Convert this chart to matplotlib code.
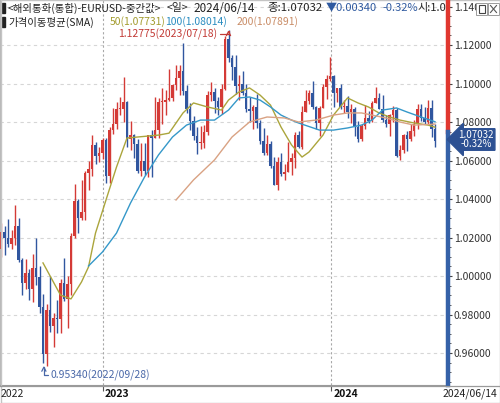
import matplotlib
matplotlib.use("Agg")
import matplotlib.pyplot as plt
from matplotlib.patches import Rectangle
from matplotlib.lines import Line2D
import numpy as np
import pandas as pd

plt.rcParams['font.family'] = ['Noto Sans CJK KR', 'DejaVu Sans']

# EURUSD mid rate, one candle per 4 trading days (last one = 2024/06/14)
first_open = 1.0140
closes = [1.0230, 1.0200, 1.0165, 1.0195, 1.0258, 1.0085, 0.9966, 1.0015, 0.9930, 1.0040,
          0.9995, 0.9838, 0.9595, 0.9825, 0.9740, 0.9780, 0.9775, 0.9965, 0.9883, 0.9960,
          1.0210, 1.0390, 1.0303, 1.0335, 1.0535, 1.0555, 1.0680, 1.0625, 1.0640, 1.0705,
          1.0520, 1.0760, 1.0790, 1.0870, 1.0870, 1.0905, 1.0710, 1.0735, 1.0685, 1.0545,
          1.0595, 1.0545, 1.0730, 1.0715, 1.0760, 1.0905, 1.0905, 1.0915, 1.0925, 1.0990,
          1.1030, 1.1065, 1.0960, 1.0870, 1.0805, 1.0725, 1.0690, 1.0690, 1.0750, 1.0940,
          1.0955, 1.0910, 1.0880, 1.0970, 1.1230, 1.1130, 1.1085, 1.0985, 1.1000, 1.0950,
          1.0870, 1.0855, 1.0880, 1.0795, 1.0700, 1.0640, 1.0685, 1.0570, 1.0475, 1.0590,
          1.0530, 1.0540, 1.0590, 1.0615, 1.0730, 1.0670, 1.0850, 1.0910, 1.0950, 1.0880,
          1.0795, 1.0875, 1.0980, 1.1025, 1.1040, 1.0950, 1.0975, 1.0880, 1.0885, 1.0850,
          1.0870, 1.0775, 1.0710, 1.0780, 1.0820, 1.0805, 1.0900, 1.0925, 1.0870, 1.0810,
          1.0790, 1.0835, 1.0860, 1.0625, 1.0655, 1.0730, 1.0710, 1.0755, 1.0790, 1.0870,
          1.0820, 1.0800, 1.0875, 1.0765, 1.07032]
highs = [1.0275, 1.0258, 1.0295, 1.0240, 1.0368, 1.0300, 1.0095, 1.0090, 1.0035, 1.0115,
         1.0198, 1.0050, 0.9905, 0.9855, 0.9998, 0.9810, 0.9875, 0.9985, 1.0094, 1.0000,
         1.0225, 1.0480, 1.0400, 1.0497, 1.0545, 1.0595, 1.0735, 1.0695, 1.0670, 1.0715,
         1.0715, 1.0775, 1.0875, 1.0905, 1.0930, 1.1033, 1.0910, 1.0805, 1.0740, 1.0710,
         1.0690, 1.0690, 1.0735, 1.0760, 1.0930, 1.0925, 1.0975, 1.0965, 1.1075, 1.0995,
         1.1095, 1.1095, 1.1210, 1.0990, 1.0900, 1.0830, 1.0775, 1.0780, 1.0785, 1.0960,
         1.1010, 1.0975, 1.0930, 1.1000, 1.1245, 1.12775, 1.1150, 1.1150, 1.1045, 1.1065,
         1.0995, 1.0930, 1.0890, 1.0945, 1.0810, 1.0770, 1.0735, 1.0700, 1.0620, 1.0620,
         1.0640, 1.0580, 1.0695, 1.0640, 1.0750, 1.0755, 1.0885, 1.0965, 1.0965, 1.1015,
         1.0885, 1.0885, 1.1000, 1.1045, 1.1139, 1.1045, 1.0975, 1.1000, 1.0915, 1.0935,
         1.0895, 1.0880, 1.0805, 1.0790, 1.0890, 1.0855, 1.0910, 1.0980, 1.0950, 1.0940,
         1.0835, 1.0840, 1.0885, 1.0875, 1.0680, 1.0740, 1.0755, 1.0790, 1.0810, 1.0895,
         1.0895, 1.0880, 1.0915, 1.0915, 1.0790]
lows = [1.0100, 1.0110, 1.0150, 1.0140, 1.0160, 1.0075, 0.9900, 0.9930, 0.9875, 0.9865,
        0.9955, 0.9810, 0.9550, 0.9534, 0.9710, 0.9630, 0.9705, 0.9705, 0.9870, 0.9730,
        0.9900, 1.0200, 1.0225, 1.0290, 1.0290, 1.0445, 1.0520, 1.0580, 1.0590, 1.0610,
        1.0485, 1.0485, 1.0740, 1.0765, 1.0835, 1.0800, 1.0670, 1.0655, 1.0615, 1.0535,
        1.0520, 1.0525, 1.0515, 1.0515, 1.0715, 1.0715, 1.0790, 1.0835, 1.0910, 1.0910,
        1.0965, 1.0940, 1.0940, 1.0845, 1.0760, 1.0705, 1.0635, 1.0660, 1.0665, 1.0735,
        1.0910, 1.0845, 1.0835, 1.0840, 1.0965, 1.1110, 1.1020, 1.0945, 1.0915, 1.0940,
        1.0850, 1.0800, 1.0765, 1.0770, 1.0685, 1.0630, 1.0630, 1.0560, 1.0475, 1.0448,
        1.0520, 1.0500, 1.0540, 1.0525, 1.0560, 1.0665, 1.0660, 1.0850, 1.0895, 1.0870,
        1.0765, 1.0725, 1.0875, 1.0920, 1.1015, 1.0880, 1.0905, 1.0865, 1.0845, 1.0820,
        1.0795, 1.0725, 1.0695, 1.0700, 1.0765, 1.0795, 1.0800, 1.0900, 1.0865, 1.0800,
        1.0775, 1.0725, 1.0800, 1.0620, 1.0601, 1.0640, 1.0650, 1.0700, 1.0725, 1.0765,
        1.0805, 1.0790, 1.0790, 1.0720, 1.0668]

# moving averages (candle number, value)
sma50_at = [12, 17, 20, 23, 25, 27, 30, 33, 36, 39, 45, 48, 52, 55, 59, 63, 65, 68, 71, 74,
            77, 80, 83, 86, 88, 92, 95, 99, 102, 105, 108, 111, 114, 118, 122, 124]
sma50 = [1.0068, 0.9901, 0.9881, 0.9969, 1.0047, 1.0223, 1.0395, 1.0566, 1.0717, 1.0722,
         1.0732, 1.0742, 1.0847, 1.0899, 1.0878, 1.0862, 1.0914, 1.0956, 1.0977, 1.0940,
         1.0888, 1.0774, 1.0681, 1.0618, 1.0644, 1.0732, 1.0836, 1.0925, 1.0899, 1.0878,
         1.0847, 1.0826, 1.0810, 1.0795, 1.0784, 1.07731]
sma100_at = [25, 29, 33, 37, 41, 45, 49, 53, 57, 61, 65, 68, 71, 74, 77, 80, 83, 85, 91, 95,
             99, 103, 106, 109, 113, 116, 120, 124]
sma100 = [1.0052, 1.0125, 1.0223, 1.0379, 1.0514, 1.0629, 1.0722, 1.0784, 1.0810, 1.0810,
          1.0862, 1.0925, 1.0930, 1.0914, 1.0878, 1.0836, 1.0810, 1.0795, 1.0758, 1.0758,
          1.0769, 1.0784, 1.0810, 1.0862, 1.0873, 1.0852, 1.0826, 1.08014]
sma200_at = [50, 55, 61, 66, 71, 76, 81, 85, 90, 95, 99, 103, 106, 110, 114, 118, 124]
sma200 = [1.0395, 1.0499, 1.0603, 1.0722, 1.0800, 1.0826, 1.0821, 1.0800, 1.0810, 1.0836,
          1.0847, 1.0847, 1.0836, 1.0821, 1.0800, 1.0784, 1.07891]

days = pd.bdate_range("2022-07-19", "2024-06-14")
pos = np.arange(len(days))[::-1][::4][::-1]
c = np.array(closes)
o = np.concatenate([[first_open], c[:-1]])
up_col, dn_col = "#D43A36", "#30569F"
cols = [up_col if cc >= oo else dn_col for oo, cc in zip(o, c)]

W, H = 500, 403
fig = plt.figure(figsize=(5, 4.03), dpi=100)
ax = fig.add_axes([0, 18 / H, 447.7 / W, 385 / H])
ax.set_xlim(0.857, 512.5)
ax.set_ylim(0.94338, 1.14338)

# grid
for yv in np.arange(0.96, 1.1401, 0.02):
    ax.axhline(yv, color="#D6D6D6", lw=0.8, ls=(0, (3, 3)), zorder=0)
year_pos = [np.argmax(days.year == 2023), np.argmax(days.year == 2024)]
for xv in year_pos:
    ax.axvline(xv, color="#A8A8A8", lw=0.8, ls=(0, (2, 2)), zorder=0)

# candles
ax.vlines(pos, lows, highs, colors=cols, lw=1.0, zorder=2)
body = np.maximum(np.abs(c - o), 0.0004)
ax.bar(pos, body, bottom=np.minimum(o, c), width=3.3, color=cols, lw=0, zorder=3)

# moving averages
ax.plot(pos[sma50_at], sma50, color="#ABA53C", lw=1.0, zorder=4)
ax.plot(pos[sma100_at], sma100, color="#3598C9", lw=1.0, zorder=4)
ax.plot(pos[sma200_at], sma200, color="#D9A283", lw=1.0, zorder=4)

# right price axis
ax.yaxis.tick_right()
yt = np.arange(0.96, 1.1401, 0.02)
ax.set_yticks(yt)
ylabels = [f"{v:.5f}" for v in yt]
ylabels[-1] = ylabels[-1][:5]          # top label is half hidden by the window buttons
ax.set_yticklabels(ylabels)
ax.set_yticks(np.arange(0.945, 1.1431, 0.005), minor=True)
ax.tick_params(axis="y", which="major", direction="out", length=3, width=0.8,
               pad=1.5, labelsize=7.5, labelcolor="#333333", color="#444444")
ax.tick_params(axis="y", which="minor", direction="out", length=1.8, width=0.6, color="#444444")
ax.set_xticks(year_pos)
ax.set_xticklabels([])
ax.tick_params(axis="x", direction="out", length=4, width=0.8, color="#555555")
for s in ["top", "right"]:
    ax.spines[s].set_visible(False)
ax.spines["bottom"].set_color("#9A9A9A")
ax.spines["left"].set_color("#B8B8B8")

def fx(x):
    return x / W

def fy(y):
    return 1 - y / H

split = 132
fig.add_artist(Line2D([fx(448), fx(448)], [fy(0), fy(split)], color="#E0372F", lw=3.2))
fig.add_artist(Line2D([fx(448), fx(448)], [fy(split), fy(385)], color="#3561A8", lw=3.2))
fig.add_artist(Line2D([0, 1], [fy(385.5), fy(385.5)], color="#9A9A9A", lw=0.9))

# current price box
fig.text(fx(476), fy(139.5), "1.07032\n-0.32%", color="white", fontsize=7, ha="center",
         va="center", linespacing=0.9,
         bbox=dict(boxstyle="larrow,pad=0.12", fc="#2D5193", ec="#2D5193"))

# header
hy1, hy2 = 8, 22
for yy in (hy1, hy2):
    fig.add_artist(Rectangle((fx(2), fy(yy + 5)), 3 / W, 10 / H, color="#222222",
                             transform=fig.transFigure))
head = [(8, "<해외통화(통합)-EURUSD-중간값>", "#222222", 7.5),
        (167, "<일>", "#222222", 7.7),
        (193, "2024/06/14", "#222222", 8.4),
        (267, "종:1.07032", "#222222", 8.2),
        (326, "▼0.00340", "#2F5AA0", 8.0),
        (382, "-0.32%", "#2F5AA0", 8.0),
        (418, "시:1.0", "#222222", 8.0)]
for hx, txt, col, fs in head:
    fig.text(fx(hx), fy(hy1), txt, fontsize=fs, va="center", color=col)
sma_head = [(8, "가격이동평균(SMA)", "#222222"),
            (110, "50(1.07731)", "#A39C2E"),
            (165, "100(1.08014)", "#2A8CC0"),
            (237, "200(1.07891)", "#C98C66")]
for hx, txt, col in sma_head:
    fig.text(fx(hx), fy(hy2), txt, fontsize=7.5, va="center", color=col)

# high / low annotations
ax.annotate("1.12775(2023/07/18)", xy=(pos[65], 1.12775), xytext=(-8, -3),
            textcoords="offset points", ha="right", va="center", fontsize=7.5,
            color="#C23A35",
            arrowprops=dict(arrowstyle="->", color="#C23A35", lw=0.9,
                            connectionstyle="angle,angleA=0,angleB=90,rad=0",
                            shrinkA=0, shrinkB=0))
ax.annotate("0.95340(2022/09/28)", xy=(pos[13] - 3, 0.9534), xytext=(5, -7),
            textcoords="offset points", ha="left", va="center", fontsize=7.5,
            color="#4A68A8",
            arrowprops=dict(arrowstyle="->", color="#4A68A8", lw=0.9,
                            connectionstyle="angle,angleA=0,angleB=90,rad=0",
                            shrinkA=0, shrinkB=0))

# bottom date labels
fig.text(fx(1), fy(394), "2022", fontsize=7.5, va="center", ha="left", color="#222222")
fig.text(fx(105), fy(394), "2023", fontsize=7.5, va="center", ha="left", color="#111111",
         fontweight="bold")
fig.text(fx(334), fy(394), "2024", fontsize=7.5, va="center", ha="left", color="#111111",
         fontweight="bold")
fig.text(fx(497), fy(394), "2024/06/14", fontsize=7.5, va="center", ha="right",
         color="#222222")

# window buttons
for bx in (476, 488):
    fig.add_artist(Rectangle((fx(bx), fy(15)), 11 / W, 12 / H, fc="white", ec="#9A9A9A",
                             lw=0.7, transform=fig.transFigure))
fig.add_artist(Rectangle((fx(478.5), fy(12.5)), 6 / W, 7 / H, fc="none", ec="#444444",
                         lw=0.8, transform=fig.transFigure))
fig.add_artist(Line2D([fx(490.5), fx(496.5)], [fy(5.5), fy(12.5)], color="#555555", lw=0.8))
fig.add_artist(Line2D([fx(490.5), fx(496.5)], [fy(12.5), fy(5.5)], color="#555555", lw=0.8))

# outer frame
fig.add_artist(Rectangle((0.001, 0.001), 0.998, 0.998, fc="none", ec="#C4C4C4", lw=1.0,
                         transform=fig.transFigure))

fig.savefig("out.png", dpi=100)
